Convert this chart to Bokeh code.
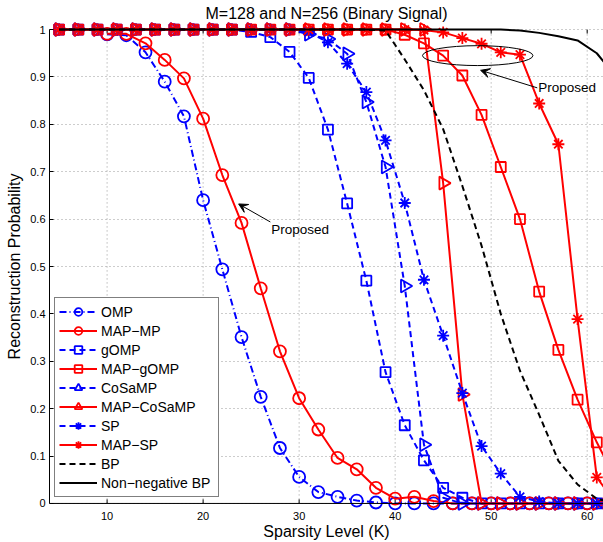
import math
from bokeh.plotting import figure
from bokeh.models import Range1d, FixedTicker, Legend, LegendItem, Arrow, VeeHead, Label, Span
from bokeh.embed import file_html
from bokeh.resources import INLINE

# ---------------- data ----------------
K_even = [10, 12, 14, 16, 18, 20, 22, 24, 26, 28, 30, 32, 34, 36, 38, 40, 42, 44,
          46, 48, 50, 52, 54, 56, 58, 60, 62]
K_odd = [5, 7, 9, 11, 13, 15, 17, 19, 21, 23, 25, 27, 29, 31, 33, 35, 37, 39, 41, 43,
         45, 47, 49, 51, 53, 55, 57, 59, 61, 63]

omp = [0.990, 0.988, 0.952, 0.890, 0.817, 0.640, 0.494, 0.351, 0.225, 0.117, 0.056,
       0.024, 0.014, 0.006, 0.002, 0, 0, 0, 0, 0, 0, 0, 0, 0, 0, 0, 0]
map_mp = [0.991, 0.991, 0.971, 0.936, 0.897, 0.812, 0.693, 0.592, 0.454, 0.321, 0.222,
          0.156, 0.096, 0.072, 0.033, 0.010, 0.014, 0.005, 0, 0, 0, 0, 0, 0, 0, 0, 0]
gomp = [1, 1, 1, 1, 1, 1, 1, 1, 1, 1, 0.995, 0.984, 0.953, 0.898, 0.789, 0.633, 0.470,
        0.277, 0.165, 0.091, 0.033, 0.012, 0, 0, 0, 0, 0, 0, 0, 0]
map_gomp = [1, 1, 1, 1, 1, 1, 1, 1, 1, 1, 1, 1, 1, 1, 1, 1, 1, 1, 0.989, 0.971,
            0.945, 0.903, 0.820, 0.710, 0.600, 0.447, 0.324, 0.219, 0.129, 0.050]
cosamp = [1, 1, 1, 1, 1, 1, 1, 1, 1, 1, 1, 1, 1, 0.99, 0.98, 0.949, 0.847, 0.710,
          0.459, 0.124, 0.012, 0, 0, 0, 0, 0, 0, 0, 0, 0]
map_cosamp = [1, 1, 1, 1, 1, 1, 1, 1, 1, 1, 1, 1, 1, 1, 1, 1, 1, 1, 1, 1,
              0.676, 0.230, 0, 0, 0, 0, 0, 0, 0, 0]
sp = [1, 1, 1, 1, 1, 1, 1, 1, 1, 1, 1, 1, 1, 0.995, 0.973, 0.928, 0.868, 0.766, 0.634,
      0.472, 0.354, 0.233, 0.121, 0.063, 0.014, 0.004, 0, 0, 0, 0]
map_sp = [1, 1, 1, 1, 1, 1, 1, 1, 1, 1, 1, 1, 1, 1, 1, 1, 1, 1, 1, 0.999,
          0.994, 0.982, 0.970, 0.952, 0.947, 0.844, 0.758, 0.389, 0.055, 0]
bp = [1, 1, 1, 1, 1, 1, 1, 1, 1, 1, 1, 1, 1, 1, 1, 1, 1, 0.998, 0.937, 0.872,
      0.790, 0.670, 0.544, 0.400, 0.280, 0.187, 0.090, 0.040, 0.010, 0]
nn_bp = [1, 1, 1, 1, 1, 1, 1, 1, 1, 1, 1, 1, 1, 1, 1, 1, 1, 1, 1, 1,
         1, 1, 1, 1, 0.998, 0.993, 0.986, 0.977, 0.950, 0.900]

x_ticks = [10, 20, 30, 40, 50, 60]
y_ticks = [0, 0.1, 0.2, 0.3, 0.4, 0.5, 0.6, 0.7, 0.8, 0.9, 1]
y_tick_labels = ["0", "0.1", "0.2", "0.3", "0.4", "0.5", "0.6", "0.7", "0.8", "0.9", "1"]

title_text = "M=128 and N=256 (Binary Signal)"
x_label = "Sparsity Level (K)"
y_label = "Reconstruction Probability"

FONT = "Liberation Sans"
BLUE = "#0000ff"
RED = "#ff0000"

PAD = 0.017  # room for markers sitting on 0 and 1
TICK = 0.0085

p = figure(width=603, height=542, output_backend="svg", toolbar_location=None,
           x_range=Range1d(4, 61.7), y_range=Range1d(-PAD, 1 + PAD),
           min_border_left=49, min_border_right=0, min_border_top=21, min_border_bottom=30)
p.outline_line_color = None
p.background_fill_color = "white"
p.border_fill_color = "white"

p.title.text = title_text
p.title.align = "center"
p.title.text_font = FONT
p.title.text_font_size = "16px"
p.title.text_font_style = "normal"
p.title.text_color = "black"
p.title.standoff = 0
p.title.offset = 0

for ax in (p.xaxis, p.yaxis):
    ax.minor_tick_line_color = None
    ax.major_label_text_font = FONT
    ax.major_label_text_font_size = "11px"
    ax.major_label_text_color = "black"
    ax.axis_label_text_font = FONT
    ax.axis_label_text_font_size = "16px"
    ax.axis_label_text_font_style = "normal"
    ax.axis_label_text_color = "black"

p.yaxis.axis_line_color = "black"
p.yaxis.major_tick_line_color = "black"
p.yaxis.major_tick_in = 4
p.yaxis.major_tick_out = 0
p.yaxis.bounds = (0, 1)
p.xaxis.axis_line_color = None
p.xaxis.major_tick_line_color = None
p.xaxis.major_tick_in = 0
p.xaxis.major_tick_out = 0

p.xaxis.ticker = FixedTicker(ticks=x_ticks)
p.yaxis.ticker = FixedTicker(ticks=y_ticks)
p.yaxis.major_label_overrides = {t: l for t, l in zip(y_ticks, y_tick_labels)}
p.xaxis.axis_label = x_label
p.yaxis.axis_label = y_label
p.xaxis.axis_label_standoff = 0
p.yaxis.axis_label_standoff = 4
p.xaxis.major_label_standoff = 0
p.yaxis.major_label_standoff = 4

p.xgrid.visible = False
p.ygrid.grid_line_color = "#9a9a9a"
p.ygrid.grid_line_dash = "1 3"
p.ygrid.grid_line_width = 1

nx = len(x_ticks)
# vertical dotted grid between 0 and 1
p.segment(x0=x_ticks, y0=[0] * nx, x1=x_ticks, y1=[1] * nx,
          line_color="#9a9a9a", line_dash="1 3", line_width=1)
# x axis line at 0 and inward ticks
p.add_layout(Span(location=0, dimension="width", line_color="black", line_width=1))
p.segment(x0=x_ticks, y0=[0] * nx, x1=x_ticks, y1=[TICK] * nx,
          line_color="black", line_width=1)
p.segment(x0=x_ticks, y0=[1] * nx, x1=x_ticks, y1=[1 - TICK] * nx,
          line_color="black", line_width=1)

LW = 2
series = [
    ("OMP", K_even, omp, BLUE, "7 3 1 3", "circle", 12),
    ("MAP\u2212MP", K_even, map_mp, RED, "solid", "circle", 12),
    ("gOMP", K_odd, gomp, BLUE, "6 4", "square", 10),
    ("MAP\u2212gOMP", K_odd, map_gomp, RED, "solid", "square", 10),
    ("CoSaMP", K_odd, cosamp, BLUE, "6 4", "triangle", 13),
    ("MAP\u2212CoSaMP", K_odd, map_cosamp, RED, "solid", "triangle", 13),
    ("SP", K_odd, sp, BLUE, "6 4", "asterisk", 12),
    ("MAP\u2212SP", K_odd, map_sp, RED, "solid", "asterisk", 12),
    ("BP", K_odd, bp, "black", "6 4", None, 0),
    ("Non\u2212negative BP", K_odd, nn_bp, "black", "solid", None, 0),
]

items = []
for name, xs, ys, col, dash, marker, size in series:
    rs = []
    rl = p.line(xs, ys, line_color=col, line_width=LW, line_dash=dash)
    rs.append(rl)
    if marker is not None:
        ang = -math.pi / 2 if marker == "triangle" else 0
        rm = p.scatter(xs, ys, marker=marker, size=size, angle=ang,
                       fill_color=None, line_color=col, line_width=1.8)
        rs.append(rm)
    items.append(LegendItem(label=name, renderers=rs))

legend = Legend(items=items, location=(5, 14))
legend.label_text_font = FONT
legend.label_text_font_size = "14px"
legend.label_text_color = "black"
legend.glyph_width = 38
legend.glyph_height = 19
legend.label_height = 19
legend.label_width = 113
legend.spacing = 0
legend.padding = 4
legend.margin = 0
legend.label_standoff = 4
legend.border_line_color = "black"
legend.border_line_width = 1
legend.background_fill_color = "white"
legend.background_fill_alpha = 1
p.add_layout(legend)

# annotations
p.ellipse(x=[48.6], y=[0.945], width=11.5, height=0.042,
          fill_color=None, line_color="black", line_width=1)
p.add_layout(Arrow(end=VeeHead(size=9, fill_color="black", line_color="black", line_width=1),
                   x_start=54.8, y_start=0.877, x_end=48.9, y_end=0.914,
                   line_color="black", line_width=1))
p.add_layout(Label(x=54.9, y=0.877, text="Proposed", text_font=FONT,
                   text_font_size="13.5px", text_baseline="middle", text_color="black"))
p.add_layout(Arrow(end=VeeHead(size=9, fill_color="black", line_color="black", line_width=1),
                   x_start=27.0, y_start=0.594, x_end=23.7, y_end=0.632,
                   line_color="black", line_width=1))
p.add_layout(Label(x=27.1, y=0.578, text="Proposed", text_font=FONT,
                   text_font_size="13.5px", text_baseline="middle", text_color="black"))

open("out.html", "w").write(file_html(p, INLINE))
